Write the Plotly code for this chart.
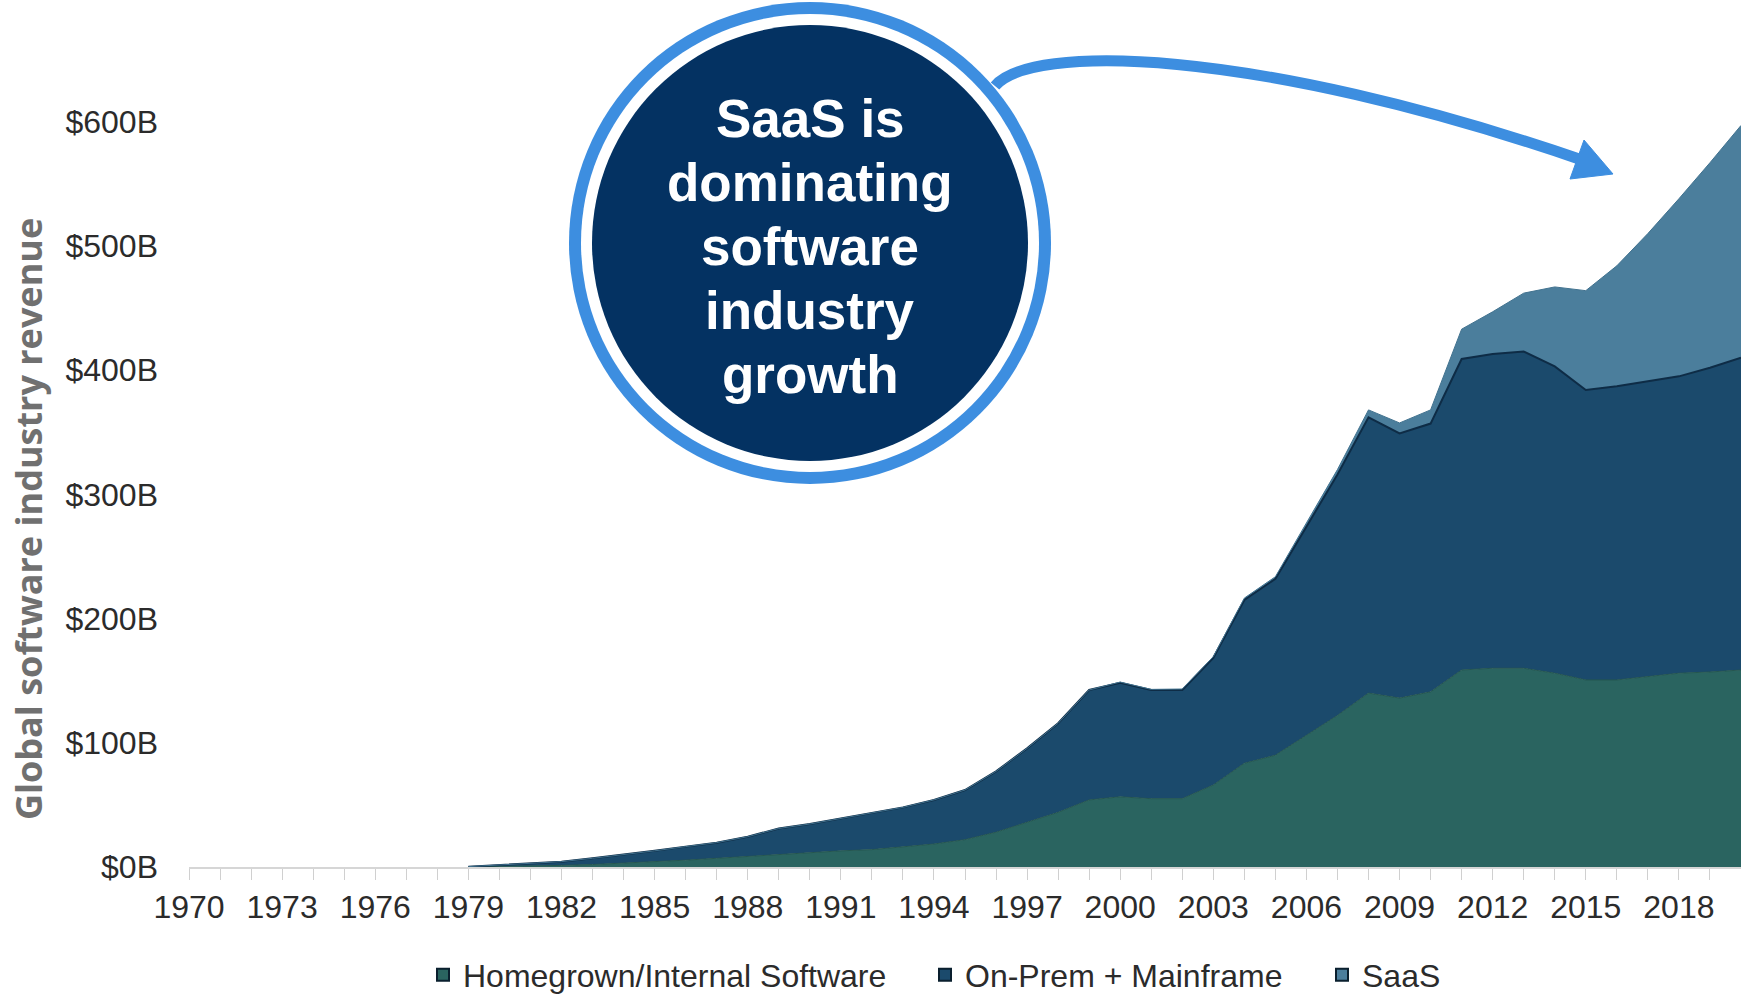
import plotly.graph_objects as go

years = list(range(1979, 2021))

homegrown = [0.1, 0.4, 0.8, 1.3, 2, 3, 4, 5.5, 7, 8.5, 10.5, 12, 13, 14, 16, 18.5, 22, 28, 36, 44,
             54, 56.5, 55, 55, 66, 83.5, 90, 106, 122, 140, 136, 141, 158.6, 160, 160, 156,
             150.6, 150.6, 153, 156, 157, 158.6]
onprem = [0.2, 1.1, 2.2, 3.0, 5.0, 6.7, 9.0, 10.9, 12.6, 15.9, 20.5, 22.6, 26.0, 29.0, 32.0, 35.5,
          40.0, 49.0, 59.5, 71.7, 88.5, 91.9, 87.5, 87.5, 102.4, 131.5, 142, 168, 194, 222, 213,
          216, 250.4, 253, 255, 247, 233.4, 236.4, 238, 239, 245, 251.4]
saas = [0, 0, 0, 0, 0, 0, 0, 0, 0, 0, 0, 0, 0, 0, 0, 0, 0, 0, 0, 0,
        0, 0.5, 0.5, 0.8, 1, 1.5, 1.7, 3, 4, 6, 8.5, 11, 24, 34, 47, 64, 80, 97, 119, 143, 165, 187]

series_names = ["Homegrown/Internal Software", "On-Prem + Mainframe", "SaaS"]
fill_colors = ["#2a6460", "#1b4a6c", "#4b7e9c"]
edge_colors = ["#24564f", "#0e2c46", "#41728f"]
edge_widths = [1, 2, 1]
callout_lines = ["SaaS is", "dominating", "software", "industry", "growth"]

W, H = 1741, 995
L, B = 189, 128
PW, PH = W - L, H - B


def px(x):
    return (x - L) / PW


def py(y):
    return (H - B - y) / PH


tick_font = dict(family="Liberation Sans, Arial", size=32, color="#2b2b2b")
legend_ids = ["legend", "legend2", "legend3"]
legend_left = [423, 925, 1322]

fig = go.Figure()
for vals, name, fc, ec, lw, lg in zip([homegrown, onprem, saas], series_names, fill_colors,
                                      edge_colors, edge_widths, legend_ids):
    fig.add_trace(go.Scatter(x=years, y=vals, stackgroup="one", mode="lines", name=name,
                             fillcolor=fc, line=dict(color=ec, width=lw), showlegend=False))
    # legend swatch
    fig.add_trace(go.Scatter(x=[None], y=[None], mode="markers", name=name, legend=lg,
                             marker=dict(symbol="square", size=17, color=fc,
                                         line=dict(color="#0a1f2e", width=1))))

# callout circle
cx, cy = 810, 243
for r, col in [(241, "#3d8ee0"), (229, "white"), (218, "#043262")]:
    fig.add_shape(type="circle", xref="paper", yref="paper",
                  x0=px(cx - r), x1=px(cx + r), y0=py(cy + r), y1=py(cy - r),
                  fillcolor=col, line=dict(width=0), layer="above")

# curved arrow
p0, c1, c2, p3 = (995, 86), (1030, 44), (1250, 46), (1582, 160)
path = "M {},{} C {},{} {},{} {},{}".format(px(p0[0]), py(p0[1]), px(c1[0]), py(c1[1]),
                                          px(c2[0]), py(c2[1]), px(p3[0]), py(p3[1]))
fig.add_shape(type="path", xref="paper", yref="paper", path=path,
              line=dict(color="#3d8ee0", width=11), layer="above")
tri = [(1613, 174), (1584, 140), (1570, 179)]
tri_path = "M {},{} L {},{} L {},{} Z".format(*[v for p in tri for v in (px(p[0]), py(p[1]))])
fig.add_shape(type="path", xref="paper", yref="paper", path=tri_path,
              fillcolor="#3d8ee0", line=dict(color="#3d8ee0", width=1), layer="above")

for i, line in enumerate(callout_lines):
    fig.add_annotation(text="<b>%s</b>" % line, xref="paper", yref="paper",
                       x=px(cx), y=py(119 + i * 63.8), showarrow=False,
                       font=dict(family="Liberation Sans, Arial", size=53, color="white"),
                       xanchor="center", yanchor="middle")

fig.add_annotation(text="<b>Global software industry revenue</b>", textangle=-90,
                   xref="paper", yref="paper", x=px(28), y=py(519), showarrow=False,
                   font=dict(family="Open Sans, Arial", size=36, color="#707070"),
                   xanchor="center", yanchor="middle")

legend_style = dict(orientation="h", yref="container", y=(H - 975) / H, xanchor="left",
                    yanchor="middle", font=tick_font, itemsizing="constant",
                    bgcolor="rgba(0,0,0,0)")

fig.update_layout(
    width=W, height=H,
    margin=dict(l=L, r=0, t=0, b=B, autoexpand=False),
    plot_bgcolor="white", paper_bgcolor="white",
    showlegend=True,
    legend=dict(x=px(legend_left[0]), **legend_style),
    legend2=dict(x=px(legend_left[1]), **legend_style),
    legend3=dict(x=px(legend_left[2]), **legend_style),
    xaxis=dict(range=[1970, 2020], tickmode="linear", tick0=1970, dtick=3,
               ticks="outside", ticklen=11, tickcolor="#d0d0d0", tickwidth=1,
               minor=dict(dtick=1, ticks="outside", ticklen=11, tickcolor="#d0d0d0"),
               showline=True, linecolor="#d6d6d6", linewidth=2, showgrid=False, zeroline=False,
               tickfont=tick_font),
    yaxis=dict(range=[0, 698], tickmode="linear", tick0=0, dtick=100, tickprefix="$", ticksuffix="B",
               showgrid=False, zeroline=False, showline=False, ticks="",
               ticklabelstandoff=30, tickfont=tick_font),
)

fig.write_html("out.html", config={"displayModeBar": False},
               post_script="document.body.style.margin='0';")
